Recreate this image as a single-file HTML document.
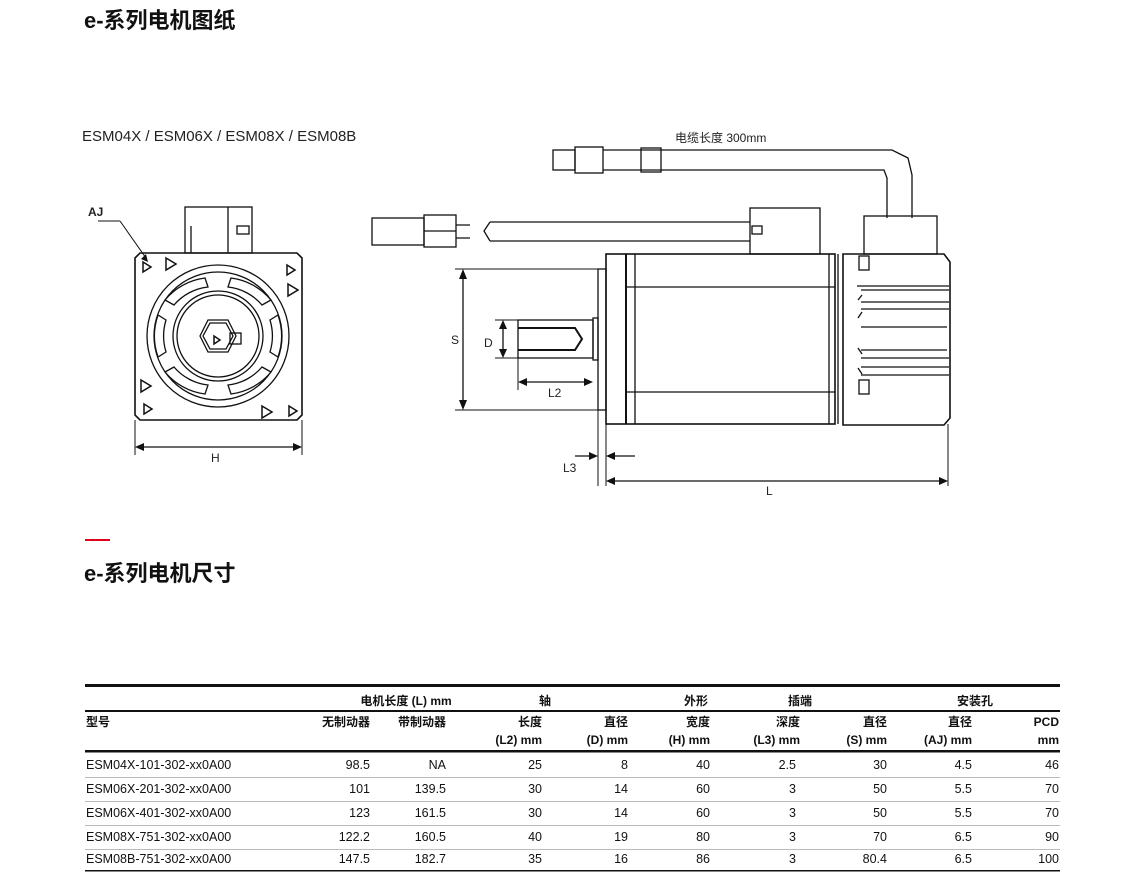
<!DOCTYPE html>
<html><head><meta charset="utf-8"><style>
body{margin:0;background:#fff;width:1136px;height:874px;overflow:hidden;font-family:"Liberation Sans","Noto Sans CJK SC",sans-serif;}
svg{position:absolute;left:0;top:0}
</style></head><body>
<svg width="1136" height="874" viewBox="0 0 1136 874" xmlns="http://www.w3.org/2000/svg" font-family="Liberation Sans, Noto Sans CJK SC, sans-serif">
<text x="84" y="28" font-size="22" font-weight="bold" fill="#111">e-系列电机图纸</text>
<text x="82" y="141" font-size="15" fill="#222">ESM04X / ESM06X / ESM08X / ESM08B</text>

<!-- front view -->
<g fill="none" stroke="#111" stroke-width="1.3">
<rect x="185" y="207" width="67" height="46"/>
<line x1="228" y1="207" x2="228" y2="253"/>
<rect x="237" y="226" width="12" height="8"/>
<line x1="191" y1="226" x2="191" y2="253"/>
<path d="M140 253 H297 L302 258 V415 L297 420 H140 L135 415 V258 Z" stroke-width="1.6"/>
<circle cx="218" cy="336" r="71"/>
<circle cx="218" cy="336" r="64"/>
<circle cx="218" cy="336" r="45"/>
<circle cx="218" cy="336" r="41"/>
<path d="M165 300 A62 62 0 0 1 205 278 L208 287 A52 52 0 0 0 174 305 Z"/>
<path d="M231 278 A62 62 0 0 1 271 300 L262 305 A52 52 0 0 0 228 287 Z"/>
<path d="M165 372 A62 62 0 0 0 205 394 L208 385 A52 52 0 0 1 174 367 Z"/>
<path d="M231 394 A62 62 0 0 0 271 372 L262 367 A52 52 0 0 1 228 385 Z"/>
<path d="M158 315 A64 64 0 0 0 158 357 L166 352 A55 55 0 0 1 166 320 Z"/>
<path d="M278 315 A64 64 0 0 1 278 357 L270 352 A55 55 0 0 0 270 320 Z"/>
<polygon points="208,320 228,320 236,336 228,352 208,352 200,336"/>
<polygon points="210,323 226,323 233,336 226,349 210,349 203,336"/>
<rect x="230" y="333" width="11" height="11"/>
<path d="M143 262 l8 5 -8 5z M166 258 l10 6 -10 6z M287 265 l8 5 -8 5z M288 284 l10 6 -10 6z M141 380 l10 6 -10 6z M144 404 l8 5 -8 5z M262 406 l10 6 -10 6z M289 406 l8 5 -8 5z M214 336 l6 4 -6 4z" stroke-width="1.5"/>
<line x1="135" y1="420" x2="135" y2="455" stroke-width="1"/>
<line x1="302" y1="420" x2="302" y2="455" stroke-width="1"/>
<line x1="140" y1="447" x2="297" y2="447"/>
<line x1="98" y1="221" x2="120" y2="221" stroke-width="1"/>
<line x1="120" y1="221" x2="146" y2="258" stroke-width="1"/>
</g>
<path d="M135 447 l9 -4 v8z M302 447 l-9 -4 v8z M148 262 l-7 -3 5 -5z" fill="#111"/>
<text x="88" y="216" font-size="12" font-weight="bold" fill="#222">AJ</text>
<text x="211" y="462" font-size="12" fill="#222">H</text>

<!-- side view -->
<g fill="none" stroke="#111" stroke-width="1.3">
<!-- upper cable -->
<rect x="553" y="150" width="22" height="20"/>
<rect x="575" y="147" width="28" height="26"/>
<rect x="641" y="148" width="20" height="24"/>
<path d="M603 150 H892 L908 158 L912 175 V218"/>
<path d="M603 170 H884 L887 178 V218"/>
<!-- lower cable -->
<rect x="372" y="218" width="52" height="27"/>
<rect x="424" y="215" width="32" height="32"/>
<line x1="424" y1="231" x2="456" y2="231"/>
<path d="M456 225 H470 M456 238 H470"/>
<path d="M490 222 H750 M490 241 H750 M490 222 L484 231 L490 241"/>
<rect x="750" y="208" width="70" height="46"/>
<rect x="752" y="226" width="10" height="8"/>
<rect x="864" y="216" width="73" height="38"/>
<!-- flange & body -->
<rect x="598" y="269" width="8" height="141"/>
<rect x="606" y="254" width="229" height="170" stroke-width="1.6"/>
<line x1="626" y1="254" x2="626" y2="424" stroke-width="2"/>
<line x1="635" y1="254" x2="635" y2="424"/>
<line x1="626" y1="287" x2="835" y2="287"/>
<line x1="626" y1="392" x2="835" y2="392"/>
<line x1="829" y1="254" x2="829" y2="424"/>
<line x1="838" y1="254" x2="838" y2="424"/>
<path d="M843 254 H944 L950 262 V418 L944 425 H843 Z" stroke-width="1.6"/>
<rect x="859" y="256" width="10" height="14"/>
<rect x="859" y="380" width="10" height="14"/>
<path d="M857 286 H949 M861 290 H949 M861 302 H949 M861 309 H949 M861 327 H947 M861 350 H947 M861 358 H949 M861 367 H949 M861 375 H949 M858 300 L862 295 M858 318 L862 312 M858 348 L862 354 M858 368 L862 374"/>
<!-- shaft -->
<rect x="518" y="320" width="75" height="38"/>
<path d="M518 328 H575 L582 339 L575 350 H518" stroke-width="2"/>
<rect x="593" y="318" width="5" height="42"/>
<!-- dims -->
<line x1="455" y1="269" x2="598" y2="269" stroke-width="1"/>
<line x1="455" y1="410" x2="598" y2="410" stroke-width="1"/>
<line x1="463" y1="275" x2="463" y2="404"/>
<line x1="495" y1="320" x2="518" y2="320" stroke-width="1"/>
<line x1="495" y1="358" x2="518" y2="358" stroke-width="1"/>
<line x1="503" y1="326" x2="503" y2="352"/>
<line x1="518" y1="358" x2="518" y2="390" stroke-width="1"/>
<line x1="524" y1="382" x2="588" y2="382"/>
<line x1="598" y1="410" x2="598" y2="486" stroke-width="1"/>
<line x1="606" y1="424" x2="606" y2="486" stroke-width="1"/>
<line x1="575" y1="456" x2="592" y2="456"/>
<line x1="612" y1="456" x2="635" y2="456"/>
<line x1="948" y1="424" x2="948" y2="486" stroke-width="1"/>
<line x1="612" y1="481" x2="942" y2="481"/>
</g>
<g fill="#111">
<path d="M463 269 l-4 10 h8z M463 410 l-4 -10 h8z M503 320 l-4 9 h8z M503 358 l-4 -9 h8z M518 382 l9 -4 v8z M593 382 l-9 -4 v8z M598 456 l-9 -4 v8z M606 456 l9 -4 v8z M606 481 l9 -4 v8z M948 481 l-9 -4 v8z"/>
</g>
<g font-size="12" fill="#222">
<text x="675" y="142">电缆长度 300mm</text>
<text x="451" y="344">S</text>
<text x="484" y="347">D</text>
<text x="548" y="397">L2</text>
<text x="563" y="472">L3</text>
<text x="766" y="495">L</text>
</g>

<rect x="85" y="539" width="25" height="2" fill="#e2001a"/>
<text x="84" y="581" font-size="22" font-weight="bold" fill="#111">e-系列电机尺寸</text>

<!-- table -->
<rect x="85" y="684" width="975" height="3" fill="#111"/>
<rect x="85" y="710" width="975" height="2" fill="#111"/>
<rect x="85" y="750" width="975" height="2.5" fill="#111"/>
<g fill="#bbb"><rect x="85" y="777" width="975" height="1"/><rect x="85" y="801" width="975" height="1"/><rect x="85" y="825" width="975" height="1"/><rect x="85" y="849" width="975" height="1"/></g>
<rect x="85" y="870" width="975" height="1.5" fill="#111"/>
<g font-size="12" font-weight="bold" fill="#111" text-anchor="middle">
<text x="406" y="705">电机长度 (L) mm</text>
<text x="545" y="705">轴</text>
<text x="696" y="705">外形</text>
<text x="800" y="705">插端</text>
<text x="975" y="705">安装孔</text>
</g>
<g font-size="12" font-weight="bold" fill="#111" text-anchor="end">
<text x="370" y="726">无制动器</text>
<text x="446" y="726">带制动器</text>
<text x="542" y="726">长度</text><text x="542" y="744">(L2) mm</text>
<text x="628" y="726">直径</text><text x="628" y="744">(D) mm</text>
<text x="710" y="726">宽度</text><text x="710" y="744">(H) mm</text>
<text x="800" y="726">深度</text><text x="800" y="744">(L3) mm</text>
<text x="887" y="726">直径</text><text x="887" y="744">(S) mm</text>
<text x="972" y="726">直径</text><text x="972" y="744">(AJ) mm</text>
<text x="1059" y="726">PCD</text><text x="1059" y="744">mm</text>
</g>
<text x="86" y="726" font-size="12" font-weight="bold" fill="#111">型号</text>
<g font-size="12.5" fill="#111">
<text x="86" y="769">ESM04X-101-302-xx0A00</text>
<text x="86" y="793">ESM06X-201-302-xx0A00</text>
<text x="86" y="817">ESM06X-401-302-xx0A00</text>
<text x="86" y="841">ESM08X-751-302-xx0A00</text>
<text x="86" y="863">ESM08B-751-302-xx0A00</text>
</g>
<g font-size="12.5" fill="#111" text-anchor="end">
<text x="370" y="769">98.5</text><text x="446" y="769">NA</text><text x="542" y="769">25</text><text x="628" y="769">8</text><text x="710" y="769">40</text><text x="796" y="769">2.5</text><text x="887" y="769">30</text><text x="972" y="769">4.5</text><text x="1059" y="769">46</text>
<text x="370" y="793">101</text><text x="446" y="793">139.5</text><text x="542" y="793">30</text><text x="628" y="793">14</text><text x="710" y="793">60</text><text x="796" y="793">3</text><text x="887" y="793">50</text><text x="972" y="793">5.5</text><text x="1059" y="793">70</text>
<text x="370" y="817">123</text><text x="446" y="817">161.5</text><text x="542" y="817">30</text><text x="628" y="817">14</text><text x="710" y="817">60</text><text x="796" y="817">3</text><text x="887" y="817">50</text><text x="972" y="817">5.5</text><text x="1059" y="817">70</text>
<text x="370" y="841">122.2</text><text x="446" y="841">160.5</text><text x="542" y="841">40</text><text x="628" y="841">19</text><text x="710" y="841">80</text><text x="796" y="841">3</text><text x="887" y="841">70</text><text x="972" y="841">6.5</text><text x="1059" y="841">90</text>
<text x="370" y="863">147.5</text><text x="446" y="863">182.7</text><text x="542" y="863">35</text><text x="628" y="863">16</text><text x="710" y="863">86</text><text x="796" y="863">3</text><text x="887" y="863">80.4</text><text x="972" y="863">6.5</text><text x="1059" y="863">100</text>
</g>
</svg>
</body></html>
